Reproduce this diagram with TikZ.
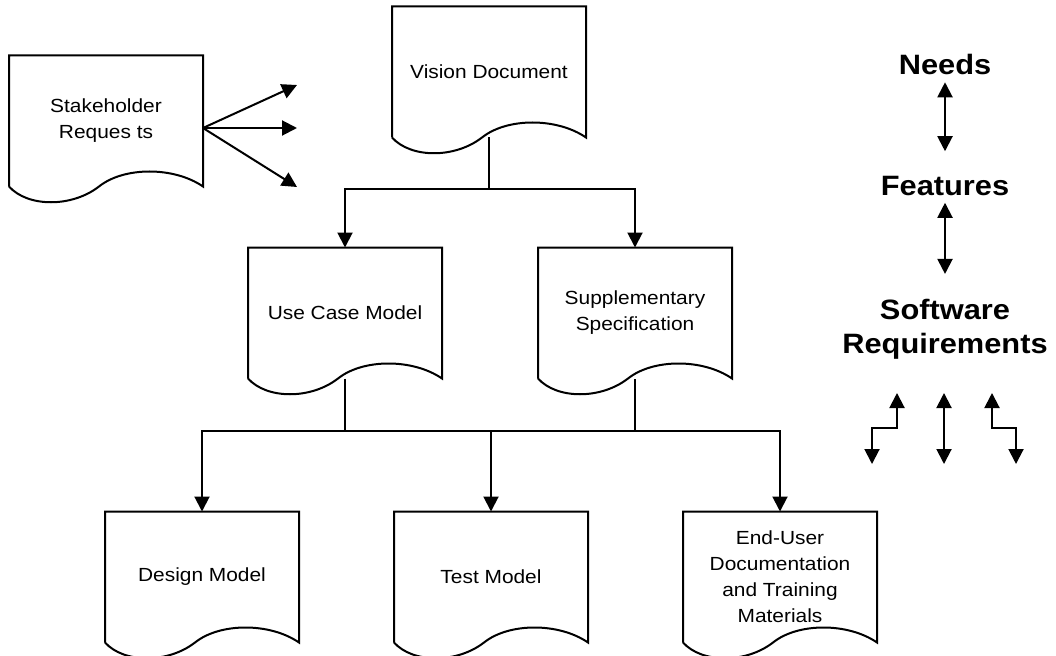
\documentclass[tikz,border=0pt]{standalone}
\usepackage{fontspec}
\setmainfont{Liberation Sans}[FakeStretch=1.1]
\usetikzlibrary{arrows.meta}
\usetikzlibrary{positioning}

\tikzset{
  docbox/.style={minimum width=192pt,minimum height=129pt,inner sep=0pt,align=center,
    font=\fontsize{19}{26}\selectfont},
  tier/.style={inner sep=0pt,align=center,font=\fontsize{28}{34}\selectfont\bfseries},
  arr/.style={-{Triangle[length=15pt,width=15pt]}},
  dbl/.style={{Triangle[length=15pt,width=15pt]}-{Triangle[length=15pt,width=15pt]}},
}

% page outline with a wavy lower edge around a docbox node
\newcommand{\docpage}[1]{%
  \draw (#1.south west) -- (#1.north west) -- (#1.north east) -- (#1.south east)
    .. controls +(-29,-20) and +(25,-20) .. ([xshift=90pt]#1.south west)
    .. controls +(-27,21) and +(19,21) .. (#1.south west);}

\begin{document}
\begin{tikzpicture}[line width=2pt,line join=miter,x=1pt,y=-1pt]
\useasboundingbox (0,0) rectangle (1056,655);
% artifacts
\node[docbox] (stake) at (106,121) {Stakeholder\\Reques ts};
\node[docbox] (vision) at (489,72) {Vision Document};
\node[docbox] (usecase) at (345,313) {Use Case Model};
\node[docbox] (supp) [right=96pt of usecase] {Supplementary\\Specification};
\node[docbox] (design) at (202,577) {Design Model};
\node[docbox] (test) [right=95pt of design] {Test Model};
\node[docbox] (enduser) [right=95pt of test] {End-User\\Documentation\\and Training\\Materials};
\foreach \d in {stake,vision,usecase,supp,design,test,enduser}
  \docpage{\d};
% fan out of the requests
\coordinate (sfan) at ([yshift=-7pt]stake.east);
\coordinate (fanA) at (297,85);
\coordinate (fanB) at (297,128);
\coordinate (fanC) at (297,187);
\foreach \t in {fanA,fanB,fanC}
  \draw[arr] (sfan) -- (\t);
% vision to use cases and supplementary spec
\path (vision.south) ++(0,51) coordinate (vsplit);
\draw (vision.south) -- (vsplit);
\draw[arr] (vsplit) -| (usecase.north);
\draw[arr] (vsplit) -| (supp.north);
% down to the derived models
\path (usecase.south) ++(0,52) coordinate (usplit);
\path (supp.south) ++(0,52) coordinate (ssplit);
\draw (usecase.south) -- (usplit) -- (ssplit) -- (supp.south);
\draw[arr] (usplit) -| (design.north);
\draw[arr] (usplit -| test.north) -- (test.north);
\draw[arr] (ssplit) -| (enduser.north);
% pyramid levels
\node[tier] (needs) at (945,64) {Needs};
\node[tier] (features) at (945,186) {Features};
\node[tier] (swreq) at (945,329) {Software\\Requirements};
\draw[dbl] ([yshift=-7pt]needs.south) -- ([yshift=24pt]features.north);
\draw[dbl] ([yshift=-6pt]features.south) -- ([yshift=24pt]swreq.north);
% traces below the requirements
\coordinate (trL) at (897,393);
\coordinate (trM) at (944,393);
\coordinate (trR) at (992,393);
\coordinate (ftL) at (872,464);
\coordinate (ftM) at (944,464);
\coordinate (ftR) at (1016,464);
\draw[dbl] (trL) -- (897,428) -| (ftL);
\draw[dbl] (trM) -- (ftM);
\draw[dbl] (trR) -- (992,428) -| (ftR);
\end{tikzpicture}
\end{document}
